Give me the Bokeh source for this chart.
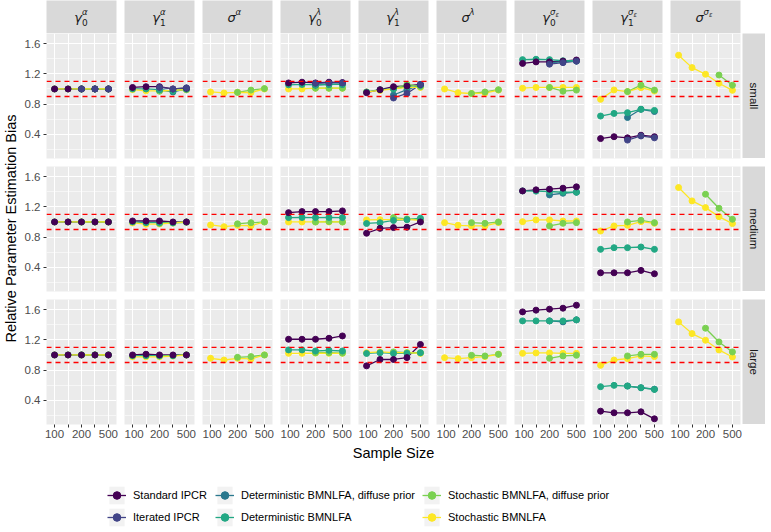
import math
import numpy as np
from bokeh.plotting import figure
from bokeh.layouts import row, column
from bokeh.models import Range1d, FixedTicker, Label, Legend, LegendItem, Span, ColumnDataSource, Spacer
from bokeh.embed import file_html
from bokeh.resources import INLINE

N = None
NA = [N, N, N, N, N]

SAMPLE_SIZES = ["100", "150", "200", "300", "500"]
SIZE_TICK_LABELS = ["100", "", "200", "", "500"]
SIZE_CONDITIONS = ["small", "medium", "large"]
PARAMETERS = ["gamma0_alpha", "gamma1_alpha", "sigma_alpha",
              "gamma0_lambda", "gamma1_lambda", "sigma_lambda",
              "gamma0_sigmaeps", "gamma1_sigmaeps", "sigma_sigmaeps"]
# (base symbol, subscript, superscript, subscript of superscript)
PARAM_LABELS = [("γ", "0", "α", ""), ("γ", "1", "α", ""), ("σ", "", "α", ""),
                ("γ", "0", "λ", ""), ("γ", "1", "λ", ""), ("σ", "", "λ", ""),
                ("γ", "0", "σ", "ε"), ("γ", "1", "σ", "ε"), ("σ", "", "σ", "ε")]
METHODS = ["Standard IPCR", "Iterated IPCR", "Deterministic BMNLFA, diffuse prior",
           "Deterministic BMNLFA", "Stochastic BMNLFA, diffuse prior", "Stochastic BMNLFA"]
COLORS = ["#440154", "#414487", "#2A788E", "#22A884", "#7AD151", "#FDE725"]
Y_MAJOR = [0.4, 0.8, 1.2, 1.6]
Y_MINOR = [0.2, 0.6, 1.0, 1.4]
BOUNDS = [0.9, 1.1]

# values per parameter (PARAMETERS order) x sample size (SAMPLE_SIZES order)
STANDARD_IPCR_SMALL = [
    [1.00, 1.00, 1.00, 1.00, 1.00], [1.02, 1.03, 1.03, 1.00, 1.01], NA,
    [1.08, 1.09, 1.08, 1.09, 1.085], [0.95, 0.99, 1.03, 1.04, 1.06], NA,
    [1.34, 1.36, 1.36, 1.37, 1.385], [0.34, 0.365, 0.35, 0.385, 0.365], NA]
ITERATED_IPCR_SMALL = [
    [N, N, 1.00, 1.00, 1.00], [N, N, 1.02, 1.00, 1.015], NA,
    [N, N, 1.075, 1.08, 1.08], [N, N, 0.88, 0.94, 1.06], NA,
    [N, N, 1.33, 1.35, 1.37], [N, N, 0.32, 0.375, 0.35], NA]
DET_DIFFUSE_SMALL = [
    [N, N, 1.00, 1.00, 1.00], [N, N, 0.99, 0.96, 1.00], NA,
    [N, N, 1.05, 1.06, 1.06], [N, N, 0.92, 0.99, 1.05], NA,
    [N, N, 1.35, 1.36, 1.37], [N, N, 0.62, 0.73, 0.70], NA]
DET_SMALL = [
    [1.00, 1.00, 1.00, 1.00, 1.00], [1.00, 1.00, 0.99, 0.97, 1.00], NA,
    [1.055, 1.06, 1.055, 1.06, 1.06], [0.96, 0.99, 1.00, 1.03, 1.05], NA,
    [1.39, 1.395, 1.39, 1.375, 1.375], [0.64, 0.675, 0.685, 0.73, 0.715], NA]
STOCH_DIFFUSE_SMALL = [
    [N, N, 1.00, 1.00, 1.00], [N, N, 0.97, 0.98, 0.99], [N, N, 0.955, 0.985, 1.005],
    [N, N, 1.01, 1.01, 1.01], [N, N, 1.00, 1.06, 1.03], [N, N, 0.94, 0.96, 0.99],
    [N, N, 1.02, 0.97, 0.985], [N, N, 0.965, 1.05, 0.985], [N, N, N, 1.185, 1.05]]
STOCH_SMALL = [
    [1.00, 1.00, 1.00, 1.00, 1.00], [0.99, 0.975, 0.975, 0.98, 0.99], [0.96, 0.947, 0.955, 0.953, 1.00],
    [1.00, 1.00, 1.01, 1.01, 1.01], [0.96, 0.98, 1.00, 1.02, 1.02], [1.00, 0.95, 0.94, 0.945, 0.985],
    [1.01, 1.02, 1.02, 1.02, 1.02], [0.862, 0.987, 0.965, 1.017, 0.973], [1.449, 1.284, 1.196, 1.076, 0.982]]

STANDARD_IPCR_MEDIUM = [
    [1.00, 1.00, 1.00, 1.00, 1.00], [1.013, 1.013, 1.013, 1.00, 1.00], NA,
    [1.124, 1.138, 1.138, 1.138, 1.147], [0.85, 0.915, 0.925, 0.93, 1.00], NA,
    [1.413, 1.427, 1.436, 1.449, 1.467], [0.324, 0.324, 0.324, 0.356, 0.311], NA]
ITERATED_IPCR_MEDIUM = [NA, NA, NA, NA, NA, NA, NA, NA, NA]
DET_DIFFUSE_MEDIUM = [NA, NA, NA, NA, NA, NA, [N, N, 1.36, 1.382, 1.396], NA, NA]
DET_MEDIUM = [
    [1.00, 1.00, 1.00, 1.00, 1.00], [1.00, 0.99, 0.99, 0.99, 1.00], NA,
    [1.058, 1.06, 1.058, 1.06, 1.058], [0.98, 0.99, 1.02, 1.03, 1.05], NA,
    [1.413, 1.41, 1.405, 1.395, 1.395], [0.636, 0.658, 0.658, 0.667, 0.636], NA]
STOCH_DIFFUSE_MEDIUM = [
    [N, N, 1.00, 1.00, 1.00], [N, N, 0.98, 0.985, 0.995], [N, N, 0.975, 0.99, 1.00],
    [N, N, 1.00, 1.005, 1.00], [N, N, 1.058, 1.04, 1.03], [N, N, 0.991, 0.982, 1.00],
    [N, N, 0.947, 0.982, 0.991], [N, N, 1.00, 1.022, 0.991], [N, N, 1.369, 1.182, 1.036]]
STOCH_MEDIUM = [
    [1.00, 1.00, 1.00, 1.00, 1.00], [0.987, 0.97, 0.973, 0.987, 1.00], [0.96, 0.937, 0.955, 0.95, 1.00],
    [1.00, 1.00, 1.00, 1.00, 1.00], [1.027, 1.03, 1.03, 1.035, 1.02], [0.991, 0.956, 0.947, 0.947, 0.991],
    [1.004, 1.027, 1.027, 1.013, 1.013], [0.88, 0.947, 0.956, 1.004, 0.982], [1.458, 1.28, 1.191, 1.071, 0.978]]

STANDARD_IPCR_LARGE = [
    [1.00, 1.00, 1.00, 1.00, 1.00], [1.00, 1.01, 1.00, 1.00, 1.00], NA,
    [1.209, 1.209, 1.209, 1.222, 1.253], [0.855, 0.94, 0.94, 0.965, 1.14], NA,
    [1.573, 1.596, 1.609, 1.622, 1.662], [0.253, 0.231, 0.231, 0.244, 0.151], NA]
ITERATED_IPCR_LARGE = [NA, NA, NA, NA, NA, NA, NA, NA, NA]
DET_DIFFUSE_LARGE = [NA, NA, NA, NA, NA, NA, [N, N, 1.453, 1.44, 1.467], [N, N, 0.587, 0.564, 0.545], NA]
DET_LARGE = [
    [1.00, 1.00, 1.00, 1.00, 1.00], [0.99, 0.99, 0.99, 0.99, 1.00], NA,
    [1.067, 1.067, 1.053, 1.062, 1.053], [1.02, 1.03, 1.02, 1.02, 1.03], NA,
    [1.453, 1.453, 1.453, 1.453, 1.467], [0.578, 0.596, 0.587, 0.564, 0.542], NA]
STOCH_DIFFUSE_LARGE = [
    [N, N, 1.00, 1.00, 1.00], [N, N, 0.985, 0.99, 1.00], [N, N, 0.969, 0.978, 1.00],
    [N, N, 1.03, 1.03, 1.025], [N, N, 1.04, 1.03, 1.03], [N, N, 0.996, 0.987, 1.009],
    [N, N, 0.956, 0.987, 0.996], [N, N, 0.987, 1.009, 1.009], [N, N, 1.356, 1.173, 1.04]]
STOCH_LARGE = [
    [1.00, 1.00, 1.00, 1.00, 1.00], [0.975, 0.975, 0.975, 0.985, 1.00], [0.956, 0.933, 0.956, 0.947, 1.00],
    [1.022, 1.022, 1.025, 1.022, 1.022], [1.03, 1.04, 1.03, 1.03, 1.02], [0.964, 0.951, 0.964, 0.978, 1.009],
    [1.022, 1.027, 1.027, 1.022, 1.022], [0.862, 0.933, 0.951, 0.987, 0.978], [1.44, 1.284, 1.196, 1.067, 0.973]]

DATA = {
    "small": [STANDARD_IPCR_SMALL, ITERATED_IPCR_SMALL, DET_DIFFUSE_SMALL, DET_SMALL, STOCH_DIFFUSE_SMALL, STOCH_SMALL],
    "medium": [STANDARD_IPCR_MEDIUM, ITERATED_IPCR_MEDIUM, DET_DIFFUSE_MEDIUM, DET_MEDIUM, STOCH_DIFFUSE_MEDIUM, STOCH_MEDIUM],
    "large": [STANDARD_IPCR_LARGE, ITERATED_IPCR_LARGE, DET_DIFFUSE_LARGE, DET_LARGE, STOCH_DIFFUSE_LARGE, STOCH_LARGE],
}

FONT = "Liberation Sans"
GREEK_FONT = "DejaVu Sans"
PANEL_BG = "#EBEBEB"
STRIP_BG = "#D9D9D9"
FRAME_W, FRAME_H, GAP = 70, 125, 8
LEFT_AXIS_W, YTITLE_W, STRIP_H = 28, 18, 33
POINT_SIZE = 6

# y scale like ggplot (5% expansion of data range)
allv = [v for cond in SIZE_CONDITIONS for m in DATA[cond] for s in m for v in s if v is not None]
lo, hi = min(allv), max(allv)
pad = 0.05 * (hi - lo)
Y_LO, Y_HI = lo - pad, hi + pad

xs = np.arange(1, len(SAMPLE_SIZES) + 1)
LINE_ORDER = [0, 1, 2, 3, 4, 5]
POINT_ORDER = [5, 4, 2, 3, 0, 1]


def to_arr(vals):
    return np.array([np.nan if v is None else v for v in vals], dtype=float)


def base_fig(**kw):
    kw.setdefault("min_border_left", 0)
    kw.setdefault("min_border_right", 0)
    kw.setdefault("min_border_top", 0)
    kw.setdefault("min_border_bottom", 0)
    p = figure(output_backend="svg", toolbar_location=None, outline_line_color=None,
               border_fill_color="white", **kw)
    return p


def add_label(p, x, y, text, size, font=FONT, style="normal", align="center",
              baseline="middle", angle=0.0, color="#1A1A1A"):
    p.add_layout(Label(x=x, y=y, text=text, text_font=font, text_font_size=f"{size}px",
                       text_font_style=style, text_align=align, text_baseline=baseline,
                       angle=angle, text_color=color))


def make_panel(ri, pi):
    first, last, bottom = pi == 0, pi == len(PARAMETERS) - 1, ri == len(SIZE_CONDITIONS) - 1
    p = base_fig(frame_width=FRAME_W, frame_height=FRAME_H,
                 x_range=Range1d(0.4, len(SAMPLE_SIZES) + 0.6), y_range=Range1d(Y_LO, Y_HI),
                 x_axis_location="below" if bottom else None,
                 y_axis_location="left" if first else None,
                 min_border_left=LEFT_AXIS_W if first else 0,
                 min_border_right=2 if last else GAP,
                 min_border_bottom=18 if bottom else GAP,
                 background_fill_color=PANEL_BG)
    xt = FixedTicker(ticks=list(xs), minor_ticks=[])
    yt = FixedTicker(ticks=Y_MAJOR, minor_ticks=Y_MINOR)
    p.xgrid.ticker = xt
    p.ygrid.ticker = yt
    p.xgrid.grid_line_color = "white"
    p.xgrid.grid_line_width = 1.1
    p.ygrid.grid_line_color = "white"
    p.ygrid.grid_line_width = 1.1
    p.ygrid.minor_grid_line_color = "white"
    p.ygrid.minor_grid_line_width = 0.55
    for ax in p.xaxis:
        ax.ticker = xt
        ax.major_label_overrides = {int(x): lab for x, lab in zip(xs, SIZE_TICK_LABELS)}
    for ax in p.yaxis:
        ax.ticker = yt
    for ax in list(p.xaxis) + list(p.yaxis):
        ax.axis_line_color = None
        ax.major_tick_line_color = "#333333"
        ax.major_tick_out = 3
        ax.major_tick_in = 0
        ax.minor_tick_line_color = None
        ax.major_label_text_font = FONT
        ax.major_label_text_font_size = "11.5px"
        ax.major_label_text_color = "#4D4D4D"
        ax.major_label_standoff = 2
    series = DATA[SIZE_CONDITIONS[ri]]
    for mi in LINE_ORDER:
        ys = to_arr(series[mi][pi])
        if np.all(np.isnan(ys)):
            continue
        p.line(xs, ys, line_color=COLORS[mi], line_width=1.3)
    for mi in POINT_ORDER:
        ys = to_arr(series[mi][pi])
        if np.all(np.isnan(ys)):
            continue
        p.scatter(xs, ys, size=POINT_SIZE, fill_color=COLORS[mi], line_color=COLORS[mi])
    for b in BOUNDS:
        p.add_layout(Span(location=b, dimension="width", line_color="#FF0000",
                          line_width=1.3, line_dash="5 4"))
    return p


def make_strip(pi):
    last = pi == len(PARAMETERS) - 1
    p = base_fig(frame_width=FRAME_W, frame_height=STRIP_H, x_range=Range1d(0, FRAME_W),
                 y_range=Range1d(0, STRIP_H), x_axis_location=None, y_axis_location=None,
                 min_border_right=2 if last else GAP, background_fill_color=STRIP_BG)
    p.grid.visible = False
    base, sub, sup, supsub = PARAM_LABELS[pi]
    bx = 31.5 if base == "γ" else 29.0
    add_label(p, bx, 16.0, base, 13, font=GREEK_FONT, style="italic")
    sx = bx + 4.0
    if sub:
        add_label(p, sx, 11.5, sub, 9, font=GREEK_FONT, align="left")
    add_label(p, sx, 21.5, sup, 8.5, font=GREEK_FONT, style="italic", align="left")
    if supsub:
        add_label(p, sx + 5.5, 19.0, supsub, 6.5, font=GREEK_FONT, style="italic", align="left")
    return p


def make_row_strip(ri):
    p = base_fig(frame_width=23, frame_height=FRAME_H, x_range=Range1d(0, 23),
                 y_range=Range1d(0, FRAME_H), x_axis_location=None, y_axis_location=None,
                 background_fill_color=STRIP_BG)
    p.grid.visible = False
    add_label(p, 11.5, FRAME_H / 2, SIZE_CONDITIONS[ri], 11.5, angle=-math.pi / 2)
    return p


strip_row = row(Spacer(width=LEFT_AXIS_W, height=STRIP_H), *[make_strip(i) for i in range(len(PARAMETERS))])
panel_rows = []
for ri in range(len(SIZE_CONDITIONS)):
    panel_rows.append(row(*[make_panel(ri, pi) for pi in range(len(PARAMETERS))], make_row_strip(ri)))

TOTAL_H = 442
ytitle = base_fig(width=YTITLE_W, height=TOTAL_H, x_range=Range1d(0, YTITLE_W),
                  y_range=Range1d(0, TOTAL_H), x_axis_location=None, y_axis_location=None)
ytitle.grid.visible = False
add_label(ytitle, 10, TOTAL_H - 228, "Relative Parameter Estimation Bias", 14.5,
          angle=math.pi / 2, color="black")

xtitle = base_fig(width=771, height=20, x_range=Range1d(0, 771), y_range=Range1d(0, 20),
                  x_axis_location=None, y_axis_location=None)
xtitle.grid.visible = False
add_label(xtitle, 393, 10, "Sample Size", 14.5, color="black")

# legend: keys only (dummy data placed outside the visible range of this legend-only figure)
LEG_H = 70
leg = base_fig(width=771, height=LEG_H, x_range=Range1d(0, 1), y_range=Range1d(0, 1),
               x_axis_location=None, y_axis_location=None)
leg.grid.visible = False
items = []
for mi, (name, col) in enumerate(zip(METHODS, COLORS)):
    bg = leg.quad(left=[-5], right=[-4], top=[-4], bottom=[-5], fill_color="#F2F2F2", line_color=None)
    ln = leg.line(x=[-5, -4], y=[-5, -4], line_color=col, line_width=1.3)
    pt = leg.scatter(x=[-5], y=[-5], size=POINT_SIZE, fill_color=col, line_color=col)
    items.append(LegendItem(label=name, renderers=[bg, ln, pt]))
for ci, lx in enumerate([107, 215, 422]):
    lg = Legend(items=items[2 * ci:2 * ci + 2], location=(lx, 4), orientation="vertical",
                glyph_width=19, glyph_height=22, label_height=22, spacing=0, padding=0,
                margin=0, label_standoff=7, border_line_color=None, background_fill_alpha=0,
                label_text_font=FONT, label_text_font_size="11px", label_text_color="black")
    leg.add_layout(lg, "center")

layout = column(row(ytitle, column(strip_row, *panel_rows)), xtitle, leg)

with open("out.html", "w") as f:
    f.write(file_html(layout, INLINE))
